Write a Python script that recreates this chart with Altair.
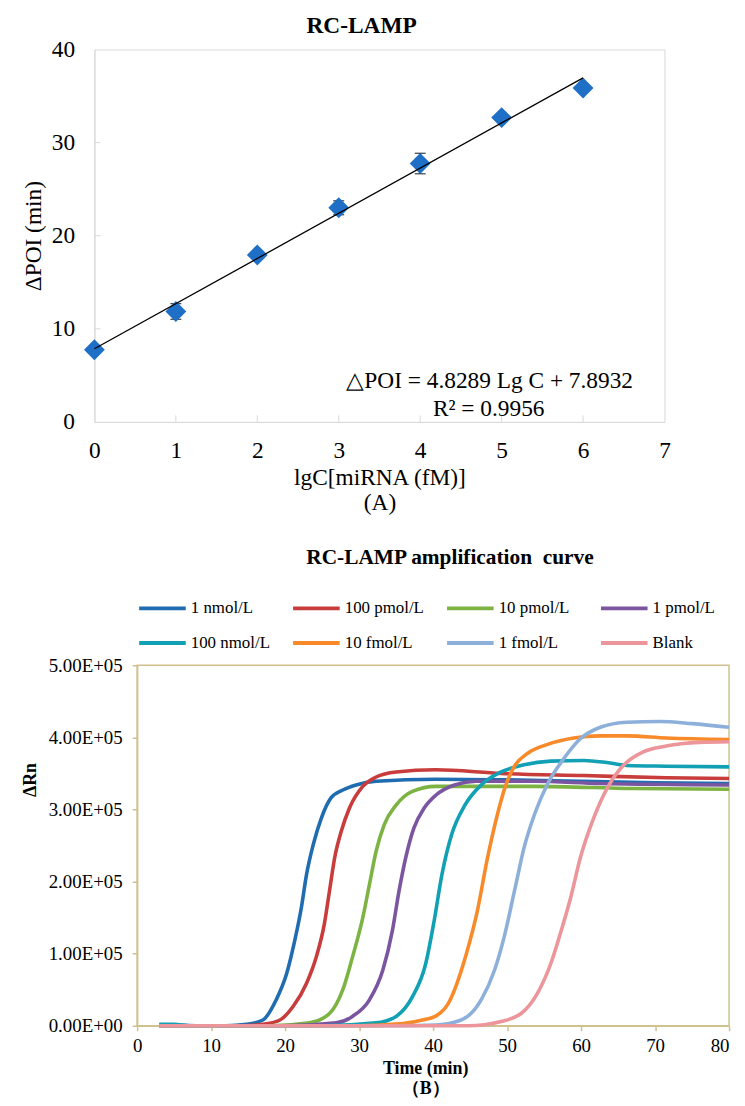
import altair as alt
import pandas as pd

# ---------------- Panel A : calibration ----------------
lgc = [0, 1, 2, 3, 4, 5, 6]
poi = [7.75, 11.86, 17.93, 23.0, 27.75, 32.68, 35.86]
poi_err = [0.3, 0.84, 0.3, 0.75, 1.1, 0.3, 0.3]
a_xticks = [0, 1, 2, 3, 4, 5, 6, 7]
a_yticks = [0, 10, 20, 30, 40]
a_inner_xticks = [1, 2, 3, 4, 5, 6]
a_inner_yticks = [10, 20, 30]
eq_text = "\u25b3POI = 4.8289 Lg C + 7.8932"
r2_text = "R\u00b2 = 0.9956"

# ---------------- Panel B : amplification curves (values in 1e5) ----------------
series_names = ["1 nmol/L", "100 pmol/L", "10 pmol/L", "1 pmol/L",
                "100 nmol/L", "10 fmol/L", "1 fmol/L", "Blank"]
series_colors = ["#1F6CB0", "#C83C3C", "#7DB343", "#7B55A0",
                 "#12A0B5", "#F98A2A", "#8DB0DB", "#EC959A"]

t_1n = [3, 5, 8, 12, 14.8, 17.0, 18.8, 20.2, 21.3, 22.2, 22.9, 23.8, 24.9, 26.2, 27.8, 29.6, 32.3, 40.4, 50, 60, 70, 80]
v_1n = [0.01, 0.01, 0.0, 0.0, 0.02, 0.08, 0.36, 0.72, 1.18, 1.64, 2.1, 2.51, 2.88, 3.16, 3.27, 3.34, 3.39, 3.42, 3.41, 3.39, 3.37, 3.36]

t_100p = [3, 8, 14, 17, 19.3, 21.1, 22.9, 24.2, 25.3, 26.0, 26.7, 27.6, 28.7, 30.5, 32.3, 35, 40.3, 49.2, 60.4, 71.5, 80]
v_100p = [0.0, 0.0, 0.0, 0.02, 0.08, 0.27, 0.59, 0.95, 1.41, 1.87, 2.33, 2.7, 3.02, 3.32, 3.45, 3.52, 3.55, 3.5, 3.47, 3.44, 3.43]

t_10p = [3, 10, 18, 23.3, 26.0, 27.8, 29.1, 30.5, 31.4, 32.3, 33.4, 35, 37.2, 40.4, 42.5, 53.7, 67, 80]
v_10p = [0.0, 0.0, 0.0, 0.04, 0.17, 0.5, 0.95, 1.5, 1.96, 2.42, 2.79, 3.06, 3.25, 3.32, 3.32, 3.32, 3.29, 3.28]

t_1p = [3, 10, 20, 26.9, 29.1, 31.4, 33.2, 34.5, 35.4, 36.3, 37.4, 38.8, 40.4, 42.9, 45.8, 53.7, 62.6, 80]
v_1p = [0.0, 0.0, 0.0, 0.04, 0.13, 0.36, 0.77, 1.32, 1.87, 2.33, 2.74, 3.02, 3.2, 3.34, 3.39, 3.39, 3.36, 3.34]

t_100n = [3, 5, 7, 15, 25, 32.3, 35, 37.2, 39.0, 40.1, 41.2, 42.5, 44.3, 46.5, 49.2, 52.3, 55.9, 60.4, 63.5, 66.2, 71.5, 80]
v_100n = [0.02, 0.02, 0.0, 0.0, 0.0, 0.04, 0.13, 0.4, 0.86, 1.43, 2.1, 2.65, 3.06, 3.34, 3.52, 3.62, 3.67, 3.68, 3.65, 3.61, 3.6, 3.59]

t_10f = [3, 15, 30, 35.9, 39.0, 40.3, 42.0, 44.5, 46.0, 47.3, 48.5, 49.7, 51.0, 52.8, 55.4, 59, 62.6, 66.2, 71.5, 80]
v_10f = [0.0, 0.0, 0.0, 0.03, 0.09, 0.13, 0.3, 1.0, 1.6, 2.3, 2.85, 3.3, 3.6, 3.78, 3.9, 3.99, 4.02, 4.02, 3.99, 3.97]

t_1f = [3, 15, 35, 40.3, 43.8, 46.5, 48.3, 49.6, 51.0, 52.3, 53.7, 55.4, 57.7, 59.9, 62.6, 66.2, 70.6, 75, 80]
v_1f = [0.0, 0.0, 0.0, 0.01, 0.08, 0.36, 0.77, 1.23, 1.87, 2.47, 2.93, 3.34, 3.71, 3.98, 4.14, 4.21, 4.22, 4.19, 4.14]

t_blank = [3, 15, 35, 44.7, 49.2, 51.9, 54.1, 55.9, 57.2, 58.6, 59.9, 61.7, 63.5, 65.7, 68.4, 71.5, 76, 80]
v_blank = [0.0, 0.0, 0.0, 0.0, 0.06, 0.17, 0.45, 0.86, 1.28, 1.78, 2.33, 2.88, 3.29, 3.61, 3.8, 3.88, 3.93, 3.94]

b_xticks = [0, 10, 20, 30, 40, 50, 60, 70, 80]
b_yticks = [0, 100000, 200000, 300000, 400000, 500000]

SERIF = "Liberation Serif"
GRAY = "#d9d9d9"
TAN = "#CFC28E"
BLUE = "#1F6FC6"
FA = 23.5  # panel A text size

# ---------------- build panel A ----------------
dfA = pd.DataFrame({"lgC": lgc, "POI": poi, "err": poi_err})
dfA["lo"] = dfA["POI"] - dfA["err"]
dfA["hi"] = dfA["POI"] + dfA["err"]

axisXA = alt.Axis(values=a_xticks, format="d", labelFlush=False, ticks=False, grid=False,
                  domainColor=GRAY, labelFont=SERIF, labelFontSize=FA, labelColor="black",
                  labelPadding=17, labelAngle=0,
                  title=["lgC[miRNA (fM)]", "(A)"], titleFont=SERIF,
                  titleFontSize=FA, titleFontWeight="normal", titleColor="black",
                  titlePadding=4, titleLineHeight=25)
axisYA = alt.Axis(values=a_yticks, format="d", labelFlush=False, ticks=False, grid=False,
                  domainColor=GRAY, labelFont=SERIF, labelFontSize=FA, labelColor="black",
                  labelPadding=20,
                  title="\u0394POI (min)", titleFont=SERIF, titleFontSize=FA,
                  titleFontWeight="normal", titleColor="black", titlePadding=6)
scXA = alt.Scale(domain=[0, 7], nice=False)
scYA = alt.Scale(domain=[0, 40], nice=False)

baseA = alt.Chart(dfA)
err_rule = baseA.mark_rule(color="black", strokeWidth=1.2).encode(
    x=alt.X("lgC:Q", scale=scXA, axis=axisXA),
    y=alt.Y("lo:Q", scale=scYA, axis=axisYA), y2="hi:Q")
cap_lo = baseA.mark_tick(color="black", orient="horizontal", size=11, thickness=1.3).encode(
    x="lgC:Q", y="lo:Q")
cap_hi = baseA.mark_tick(color="black", orient="horizontal", size=11, thickness=1.3).encode(
    x="lgC:Q", y="hi:Q")
points = baseA.mark_point(shape="diamond", filled=True, size=440, color=BLUE, opacity=1).encode(
    x="lgC:Q", y="POI:Q")
reg = baseA.transform_regression("lgC", "POI").mark_line(color="black", strokeWidth=1.3).encode(
    x="lgC:Q", y="POI:Q")

in_x = alt.Chart(pd.DataFrame({"tx": a_inner_xticks})).mark_rule(color=GRAY, strokeWidth=1).encode(
    x="tx:Q", y=alt.datum(0), y2=alt.datum(0.7))
in_y = alt.Chart(pd.DataFrame({"ty": a_inner_yticks})).mark_rule(color=GRAY, strokeWidth=1).encode(
    y="ty:Q", x=alt.datum(0), x2=alt.datum(0.075))

eq = alt.Chart(pd.DataFrame({"s": [eq_text]})).mark_text(
    font=SERIF, fontSize=FA, color="black", align="center", baseline="middle").encode(
    x=alt.value(398), y=alt.value(334), text="s:N")
r2 = alt.Chart(pd.DataFrame({"s": [r2_text]})).mark_text(
    font=SERIF, fontSize=FA, color="black", align="center", baseline="middle").encode(
    x=alt.value(397), y=alt.value(362), text="s:N")

panelA = alt.layer(err_rule, in_x, in_y, cap_lo, cap_hi, points, reg, eq, r2).properties(
    width=574, height=375,
    title=alt.TitleParams("RC-LAMP", font=SERIF, fontSize=FA, fontWeight="bold",
                          color="black", anchor="middle", frame="group", dx=-18, offset=0),
    view=alt.ViewBackground(stroke=GRAY, strokeWidth=1))

# ---------------- build panel B ----------------
ts = [t_1n, t_100p, t_10p, t_1p, t_100n, t_10f, t_1f, t_blank]
vs = [v_1n, v_100p, v_10p, v_1p, v_100n, v_10f, v_1f, v_blank]
rows = []
for k, (name, tt, vv) in enumerate(zip(series_names, ts, vs)):
    for a, b in zip(tt, vv):
        rows.append({"series": name, "k": k, "t": a, "v": b * 1e5})
dfB = pd.DataFrame(rows)

ylabel_expr = "datum.value == 0 ? '0.00E+00' : format(datum.value / 100000, '.2f') + 'E+05'"

panelB = alt.Chart(dfB).mark_line(interpolate="monotone", strokeWidth=3.6).encode(
    x=alt.X("t:Q", scale=alt.Scale(domain=[0, 80], nice=False),
            axis=alt.Axis(values=b_xticks, format="d", labelFlush=False, grid=False,
                          labelAlign={"condition": {"test": "datum.value == 80", "value": "right"},
                                      "value": "center"},
                          domainColor=TAN, tickColor=TAN,
                          tickSize=5, domainWidth=1.5, tickWidth=1.5,
                          labelFont=SERIF, labelFontSize=19, labelColor="black",
                          labelPadding=6, labelAngle=0,
                          title=["Time (min)", "\uff08B\uff09"], titleFont=SERIF,
                          titleFontSize=18, titleFontWeight="bold", titleColor="black",
                          titleLineHeight=20, titleX=290, titleY=34,
                          titleBaseline="top", titleAlign="center")),
    y=alt.Y("v:Q", scale=alt.Scale(domain=[0, 500000], nice=False),
            axis=alt.Axis(values=b_yticks, labelExpr=ylabel_expr, labelFlush=False, grid=False,
                          domainColor=TAN, tickColor=TAN, tickSize=5,
                          domainWidth=1.5, tickWidth=1.5,
                          labelFont=SERIF, labelFontSize=19, labelColor="black",
                          labelPadding=10,
                          title="\u0394Rn", titleFont=SERIF, titleFontSize=18,
                          titleFontWeight="bold", titleColor="black",
                          titleX=-107, titleY=115, titleBaseline="middle",
                          titleAlign="center")),
    color=alt.Color("series:N", scale=alt.Scale(domain=series_names, range=series_colors),
                    legend=alt.Legend(orient="top", title=None, columns=4, gridAlign="all",
                                      symbolType="stroke", symbolSize=2200,
                                      symbolStrokeWidth=4, labelFont=SERIF,
                                      labelFontSize=17, labelColor="black",
                                      labelOffset=3, columnPadding=15, rowPadding=1,
                                      offset=14, labelLimit=0)),
    order=alt.Order("k:Q"),
).properties(
    width=596, height=363,
    title=alt.TitleParams("RC-LAMP amplification\u00a0 curve", font=SERIF, fontSize=21.5,
                          fontWeight="bold", color="black", anchor="middle",
                          frame="group", dx=17, offset=14),
    view=alt.ViewBackground(stroke=TAN, strokeWidth=1.5))

spacer = alt.Chart(pd.DataFrame({"s": [0]})).mark_point(opacity=0, size=1).properties(
    width=1, height=1, view=alt.ViewBackground(stroke=None))

row1 = alt.hconcat(spacer, panelA, spacing=0)
row2 = alt.hconcat(spacer, panelB, spacing=0).resolve_legend(color="independent").resolve_scale(color="independent")

chart = alt.vconcat(row1, row2, spacing=31).resolve_legend(
    color="independent").resolve_scale(color="independent").properties(
    padding={"left": 12, "top": 2, "right": 0, "bottom": 0}
).configure_view(stroke=None).configure(background="white")

chart.save("out.html", embed_options={"renderer": "svg", "actions": False})
